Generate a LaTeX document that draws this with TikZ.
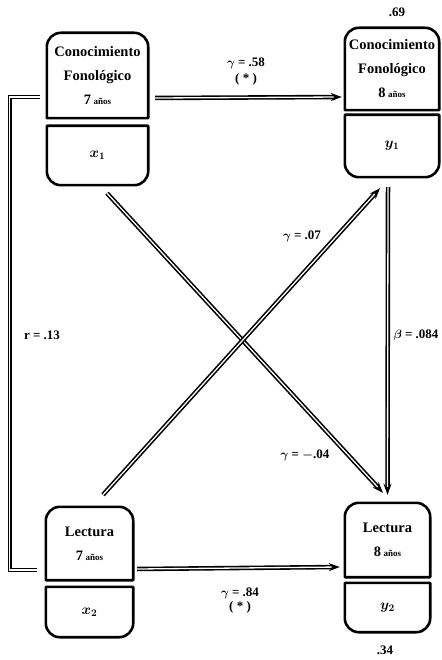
\documentclass[tikz,border=0pt]{standalone}
\usepackage{fontspec}
\newfontfamily\boxfont{Liberation Serif}
\usetikzlibrary{arrows.meta,calc}
\newcommand\UpperOutline[1]{\draw[boxline] (#1.south west) -- ([yshift=-14pt]#1.north west) arc[start angle=180,end angle=90,radius=14pt] -- ([xshift=-14pt]#1.north east) arc[start angle=90,end angle=0,radius=14pt] -- (#1.south east) -- cycle;}
\newcommand\LowerOutline[1]{\draw[boxline] (#1.north west) -- ([yshift=14pt]#1.south west) arc[start angle=180,end angle=270,radius=14pt] -- ([xshift=-14pt]#1.south east) arc[start angle=270,end angle=360,radius=14pt] -- (#1.north east) -- cycle;}
\begin{document}
\begin{tikzpicture}[x=1pt,y=-1pt,
  boxline/.style={line width=2.6pt, line join=round},
  part/.style={inner sep=0pt, align=center, font=\boxfont\bfseries\boldmath\fontsize{14.5}{24}\selectfont},
  lbl/.style={inner sep=1pt, font=\boxfont\bfseries\boldmath\fontsize{13}{15}\selectfont},
  dl/.style={double, double distance=1.3pt, line width=1.6pt},
  arr/.style={dl, -{Stealth[open, length=11pt, width=8pt]}}
]
\useasboundingbox (0,0) rectangle (441,660);
% boxes
\node[part, minimum width=101pt, minimum height=85pt] (A) at (97.5,75.5) {Conocimiento\\Fonológico\\{\Large 7}\,{\small años}};
\node[part, minimum width=101pt, minimum height=59pt] (a) at (97.5,155.5) {$x_1$};
\node[part, minimum width=94pt, minimum height=82pt] (B) at (392,69) {Conocimiento\\Fonológico\\{\Large 8}\,{\small años}};
\node[part, minimum width=94pt, minimum height=62pt] (b) at (392,146) {$y_1$};
\node[part, minimum width=87pt, minimum height=73pt] (C) at (89.5,543.5) {Lectura\\{\Large 7}\,{\small años}};
\node[part, minimum width=87pt, minimum height=50pt] (c) at (89.5,612) {$x_2$};
\node[part, minimum width=85pt, minimum height=74pt] (D) at (387.5,540) {Lectura\\{\Large 8}\,{\small años}};
\node[part, minimum width=85pt, minimum height=49pt] (d) at (387.5,607.5) {$y_2$};
\UpperOutline{A}\LowerOutline{a}
\UpperOutline{B}\LowerOutline{b}
\UpperOutline{C}\LowerOutline{c}
\UpperOutline{D}\LowerOutline{d}
% connectors
\draw[arr] ([xshift=7pt,yshift=-22.5pt]A.east) -- ([xshift=-3pt,yshift=-28pt]B.west);
\draw[arr] ([xshift=4pt,yshift=-25.5pt]C.east) -- ([xshift=-5pt,yshift=-27pt]D.west);
\draw[arr] ([xshift=9.5pt,yshift=-8pt]a.south) -- ([xshift=-4.5pt,yshift=10pt]D.north);
\draw[arr] ([xshift=13.5pt,yshift=12pt]C.north) -- ([xshift=-12pt,yshift=-11pt]b.south);
\draw[arr] ([xshift=-4pt,yshift=-10pt]b.south) -- ([yshift=8pt]D.north);
\draw[dl] ([xshift=-7pt,yshift=-21.5pt]A.west) -- ++(-30,0) |- ([xshift=-9pt,yshift=-26.5pt]C.west);
% labels
\node[lbl] (g58) at (246,63) {$\gamma$ = .58};
\node[lbl] (s1) at (246,79) {( * )};
\node[lbl] (g07) at (302,236) {$\gamma$ = .07};
\node[lbl] (r13) at (42,335) {r = .13};
\node[lbl] (b084) at (416,335) {$\beta$ = .084};
\node[lbl] (g04) at (305,455) {$\gamma$ = $-$.04};
\node[lbl] (g84) at (240,593) {$\gamma$ = .84};
\node[lbl] (s2) at (240,607) {( * )};
\node[lbl] (r69) at (397,12) {.69};
\node[lbl] (r34) at (385,650) {.34};
\end{tikzpicture}
\end{document}
